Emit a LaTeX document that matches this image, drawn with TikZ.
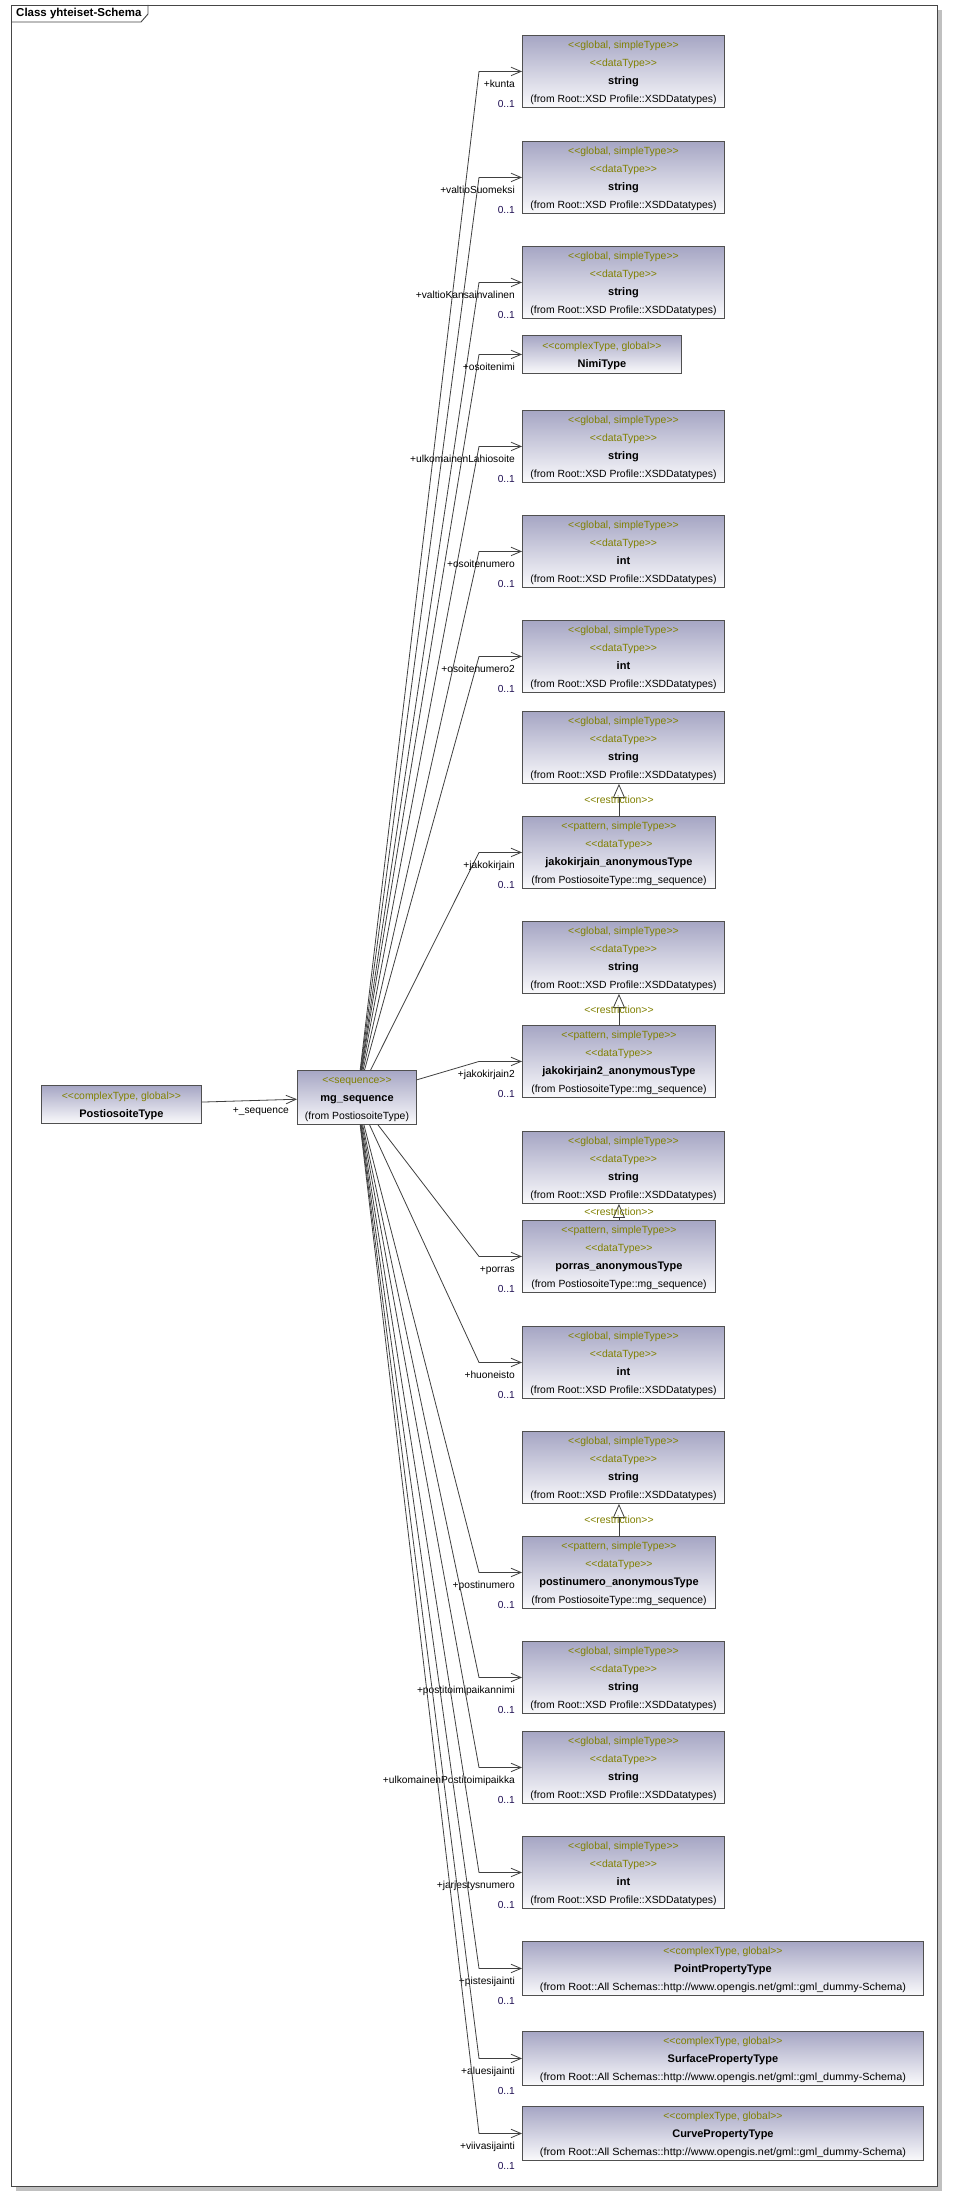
\documentclass[tikz,border=0pt]{standalone}
\usepackage{fontspec}
\setmainfont{Liberation Sans}
\usetikzlibrary{arrows.meta}

\definecolor{boxtop}{RGB}{166,166,196}
\definecolor{boxbot}{RGB}{250,250,252}
\definecolor{boxline}{RGB}{80,80,80}
\definecolor{stereo}{RGB}{128,128,0}
\definecolor{multblue}{RGB}{32,16,84}
\definecolor{wiregray}{RGB}{64,64,64}
\definecolor{framegray}{RGB}{70,70,70}
\definecolor{shadowgray}{RGB}{192,192,192}

\newcommand\boxfont{\fontsize{10.4}{18}\selectfont}
\newcommand\rolefont{\fontsize{10.2}{12}\selectfont}
\newcommand\titlefont{\fontsize{11.5}{14}\selectfont\bfseries}
\newcommand\ls{\rule[-5.2pt]{0pt}{18pt}}
\newcommand\st[1]{\ls{\color{stereo}<{}<#1>{}>}}
\newcommand\tname[1]{\ls{\fontsize{11}{18}\selectfont\bfseries #1}}
\newcommand\tfrom[1]{\ls(from #1)}

\tikzset{
  umlbox/.style     = {draw=boxline, line width=0.9pt, top color=boxtop, bottom color=boxbot,
                       inner sep=0pt, align=center, anchor=north west, font=\boxfont},
  simplebox/.style  = {umlbox, minimum width=202pt, minimum height=72pt},
  patternbox/.style = {umlbox, minimum width=193pt, minimum height=72pt},
  gmlbox/.style     = {umlbox, minimum width=401pt, minimum height=54pt},
  assoc/.style      = {wiregray, line width=0.8pt, -{Straight Barb[length=10pt,width=8.5pt]}},
  restrict/.style   = {wiregray, line width=0.8pt, -{Triangle[open,length=14pt,width=12pt]}},
  role/.style       = {anchor=base east, inner sep=0pt, font=\rolefont},
  mult/.style       = {role, text=multblue},
}

\begin{document}
\begin{tikzpicture}[x=1pt,y=-1pt]
  \fill[white, use as bounding box] (0,0) rectangle (963,2207);
  % frame with shadow and title tab
  \fill[shadowgray] (937,10) rectangle (942,2191);
  \fill[shadowgray] (16,2186) rectangle (942,2191);
  \draw[framegray, line width=0.9pt] (11,5) rectangle (937,2186);
  \draw[framegray, line width=0.9pt] (11,22) -- (141,22) -- (148,14) -- (148,5);
  \node[anchor=west, inner sep=0pt, font=\titlefont] (title) at (16,14) {Class yhteiset-Schema};

  \node[umlbox, minimum width=160pt, minimum height=38pt] (posti) at (41,1085)
    {\st{complexType, global}\\ \tname{PostiosoiteType}};
  \node[umlbox, minimum width=119pt, minimum height=54pt] (mg) at (297,1070)
    {\st{sequence}\\ \tname{mg\_sequence}\\ \tfrom{PostiosoiteType}};
  \node[umlbox, minimum width=159pt, minimum height=38pt] (nimi) at (522,335)
    {\st{complexType, global}\\ \tname{NimiType}};

  % simple types
  \foreach \nm/\y/\ty in {kunta/35/string, valtioS/141/string, valtioK/246/string,
      ulkoL/410/string, onum/515/int, onumb/620/int, supJ/711/string, supJb/921/string,
      supP/1131/string, huon/1326/int, supN/1431/string, ptnimi/1641/string,
      ulkoP/1731/string, jarj/1836/int}
    \node[simplebox] (\nm) at (522,\y) {\st{global, simpleType}\\ \st{dataType}\\
      \tname{\ty}\\ \tfrom{Root::XSD Profile::XSDDatatypes}};

  % anonymous pattern types
  \foreach \nm/\y/\ty in {jako/816/jakokirjain, jakob/1025/jakokirjain2,
      porras/1220/porras, pnum/1536/postinumero}
    \node[patternbox] (\nm) at (522,\y) {\st{pattern, simpleType}\\ \st{dataType}\\
      \tname{\ty\_anonymousType}\\ \tfrom{PostiosoiteType::mg\_sequence}};

  % gml property types
  \foreach \nm/\y/\ty in {point/1941/Point, surface/2031/Surface, curve/2106/Curve}
    \node[gmlbox] (\nm) at (522,\y) {\st{complexType, global}\\ \tname{\ty PropertyType}\\
      \ls\scalebox{1.045}[1]{(from Root::All Schemas::http://www.opengis.net/gml::gml\_dummy-Schema)}};

  % restrictions
  \foreach \kid/\base in {jako/supJ, jakob/supJb, porras/supP, pnum/supN}
    \draw[restrict] (\kid.north) -- (\kid.north |- \base.south)
      node[midway, font=\boxfont, text=stereo, inner sep=0pt] (r-\kid) {<{}<restriction>{}>};

  % associations
  \draw[assoc] (posti) -- (mg);
  \node[role] (r-seq) at ([xshift=-8pt,yshift=-15.7pt]mg.west) {+\_sequence};
  \foreach \nm/\rl in {kunta/kunta, valtioS/valtioSuomeksi, valtioK/valtioKansainvalinen,
      nimi/osoitenimi, ulkoL/ulkomainenLahiosoite, onum/osoitenumero, onumb/osoitenumero2,
      jako/jakokirjain, jakob/jakokirjain2, porras/porras, huon/huoneisto,
      pnum/postinumero, ptnimi/postitoimipaikannimi, ulkoP/ulkomainenPostitoimipaikka,
      jarj/jarjestysnumero, point/pistesijainti, surface/aluesijainti, curve/viivasijainti}{
    \draw[assoc] (mg) -- ([xshift=-43pt]\nm.west) -- (\nm.west);
    \node[role] (l-\nm) at ([xshift=-7pt,yshift=-15.7pt]\nm.west) {+\rl};
  }
  \foreach \nm in {kunta, valtioS, valtioK, ulkoL, onum, onumb, jako, jakob, porras,
      huon, pnum, ptnimi, ulkoP, jarj, point, surface, curve}
    \node[mult] (m-\nm) at ([xshift=-7pt,yshift=-35.7pt]\nm.west) {0..1};
\end{tikzpicture}
\end{document}
